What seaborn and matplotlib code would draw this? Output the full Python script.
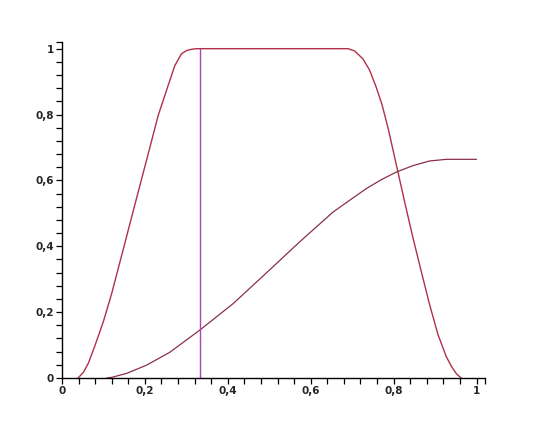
import numpy as np
import pandas as pd
import seaborn as sns
import matplotlib
matplotlib.use("Agg")
import matplotlib.pyplot as plt
from matplotlib.ticker import FixedLocator

# trapezoid-shaped curve (rise, plateau, fall)
trap_x = [0.039, 0.052, 0.064, 0.080, 0.100, 0.120, 0.137, 0.152, 0.172, 0.192,
          0.212, 0.232, 0.246, 0.256, 0.272, 0.288, 0.300, 0.312, 0.325,
          0.690, 0.706, 0.726, 0.742, 0.758, 0.772, 0.787, 0.810, 0.828, 0.847,
          0.867, 0.887, 0.907, 0.927, 0.940, 0.952, 0.963]
trap_y = [0.000, 0.018, 0.046, 0.100, 0.172, 0.257, 0.339, 0.411, 0.508, 0.604,
          0.700, 0.797, 0.850, 0.888, 0.948, 0.984, 0.994, 0.998, 1.000,
          1.000, 0.993, 0.969, 0.935, 0.883, 0.830, 0.757, 0.628, 0.527, 0.424,
          0.322, 0.222, 0.132, 0.065, 0.034, 0.012, 0.000]

# slowly rising curve levelling off near 2/3
rise_x = [0.108, 0.120, 0.156, 0.204, 0.260, 0.333, 0.413, 0.493, 0.573, 0.654,
          0.700, 0.734, 0.770, 0.806, 0.847, 0.887, 0.927, 1.000]
rise_y = [0.000, 0.002, 0.014, 0.039, 0.078, 0.146, 0.226, 0.319, 0.413, 0.504,
          0.545, 0.575, 0.602, 0.625, 0.645, 0.659, 0.664, 0.664]

# vertical marker at x = 1/3
vline_x = [1 / 3, 1 / 3]
vline_y = [0.0, 1.0]

major_ticks = [0, 0.2, 0.4, 0.6, 0.8, 1]
tick_labels = ["0", "0,2", "0,4", "0,6", "0,8", "1"]

sns.set_style("white")
plt.rcParams["font.family"] = ["DejaVu Sans"]

fig = plt.figure(figsize=(5.4, 4.29), dpi=100)
ax = fig.add_axes([0.1148, 0.1189, 0.783, 0.783])

sns.lineplot(x=trap_x, y=trap_y, ax=ax, sort=False, estimator=None,
             color="#b0304a", lw=1.0)
sns.lineplot(x=rise_x, y=rise_y, ax=ax, sort=False, estimator=None,
             color="#8a3048", lw=0.9)
sns.lineplot(x=vline_x, y=vline_y, ax=ax, sort=False, estimator=None,
             color="#b040c0", lw=1.0)

ax.set_xlim(0, 1.02)
ax.set_ylim(0, 1.02)

minor = list(np.round(np.arange(0.04, 1.0, 0.04), 2)) + [1.02]
ax.set_xticks(major_ticks)
ax.set_xticklabels(tick_labels)
ax.set_yticks(major_ticks)
ax.set_yticklabels(tick_labels)
ax.xaxis.set_minor_locator(FixedLocator(minor))
ax.yaxis.set_minor_locator(FixedLocator(minor))

ax.tick_params(which="both", direction="out", length=4, width=0.9, color="black",
               bottom=True, left=True, top=False, right=False)
ax.tick_params(which="major", labelsize=7.5, pad=2)
for lab in ax.get_xticklabels() + ax.get_yticklabels():
    lab.set_fontweight("bold")

for side in ("top", "right"):
    ax.spines[side].set_visible(False)
for side in ("left", "bottom"):
    ax.spines[side].set_color("black")
    ax.spines[side].set_linewidth(1.0)

fig.savefig("out.png", dpi=100, facecolor="white")
